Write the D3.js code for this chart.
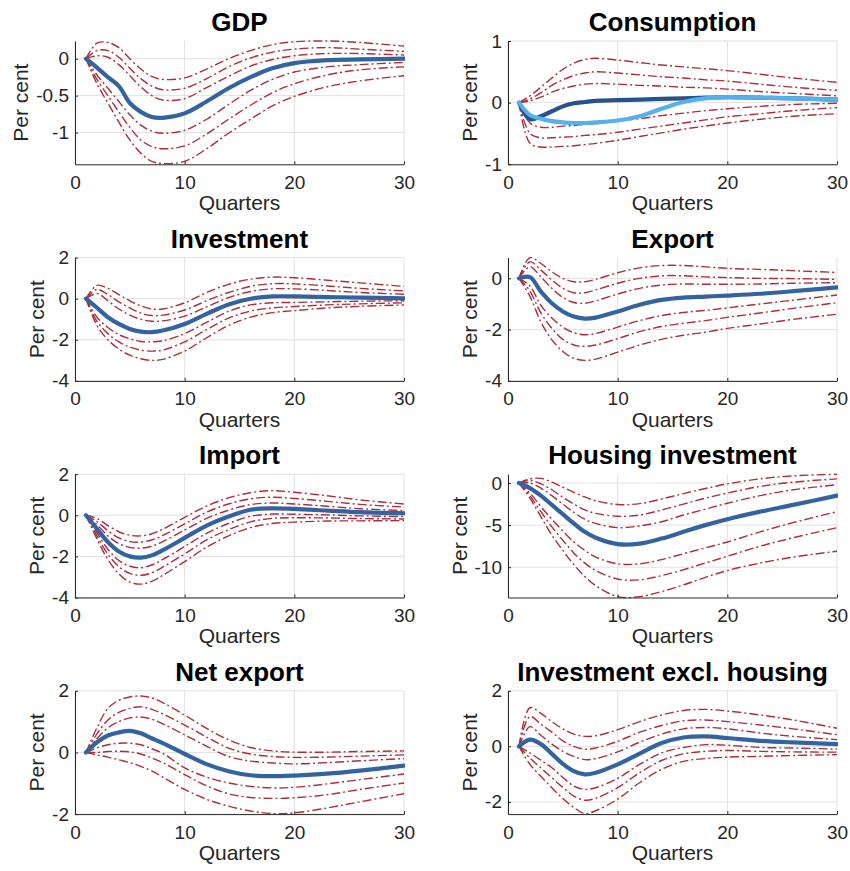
<!DOCTYPE html>
<html>
<head>
<meta charset="utf-8">
<script src="https://cdn.jsdelivr.net/npm/d3@7"></script>
<style>
  body { margin: 0; background: #ffffff; }
  text { font-family: "Liberation Sans", Arial, Helvetica, sans-serif; }
</style>
</head>
<body>
<svg id="chart" width="850" height="871"></svg>
<script>
// Horizon (quarters) at which each response is recorded
const quarters = [1, 2, 3, 4, 5, 6, 7, 8, 10, 12, 14, 16, 18, 20, 23, 26, 30];
const xTickValues = [0, 10, 20, 30];

// Panel titles
const titles = ["GDP", "Consumption", "Investment", "Export", "Import",
                "Housing investment", "Net export", "Investment excl. housing"];

// Axis limits and tick values per panel
const gdpLimits = [-1.43, 0.24], gdpTicks = [-1, -0.5, 0];
const consLimits = [-1, 1], consTicks = [-1, 0, 1];
const invLimits = [-4, 2], invTicks = [-4, -2, 0, 2];
const expLimits = [-4, 0.81], expTicks = [-4, -2, 0];
const impLimits = [-4, 2], impTicks = [-4, -2, 0, 2];
const housLimits = [-13.6, 1.05], housTicks = [-10, -5, 0];
const netLimits = [-2, 2], netTicks = [-2, 0, 2];
const invxLimits = [-2.44, 2], invxTicks = [-2, 0, 2];

// Median responses (per cent)
const gdpMedian  = [0, -0.12, -0.25, -0.37, -0.6, -0.72, -0.79, -0.8, -0.74, -0.58, -0.4, -0.25, -0.13, -0.06, -0.02, -0.01, 0];
const consMedian = [0, -0.27, -0.22, -0.14, -0.06, -0.01, 0.01, 0.03, 0.04, 0.05, 0.06, 0.07, 0.08, 0.09, 0.08, 0.07, 0.05];
const consAlt    = [0, -0.2, -0.26, -0.3, -0.32, -0.33, -0.33, -0.32, -0.29, -0.22, -0.1, 0.01, 0.07, 0.09, 0.08, 0.07, 0.05];
const invMedian  = [0, -0.44, -0.9, -1.23, -1.47, -1.6, -1.63, -1.55, -1.23, -0.74, -0.28, 0.0, 0.11, 0.11, 0.08, 0.05, 0.02];
const expMedian  = [0, 0.05, -0.52, -0.97, -1.29, -1.49, -1.57, -1.53, -1.29, -1.03, -0.84, -0.75, -0.71, -0.67, -0.6, -0.5, -0.35];
const impMedian  = [0, -0.66, -1.3, -1.76, -2.0, -2.06, -1.95, -1.7, -1.1, -0.5, -0.06, 0.27, 0.34, 0.31, 0.23, 0.15, 0.1];
const housMedian = [0, -0.6, -1.5, -2.6, -3.7, -4.8, -5.8, -6.5, -7.25, -7.2, -6.6, -5.8, -5.0, -4.3, -3.4, -2.6, -1.5];
const netMedian  = [0, 0.33, 0.55, 0.65, 0.7, 0.62, 0.46, 0.3, -0.05, -0.38, -0.61, -0.74, -0.77, -0.75, -0.69, -0.59, -0.43];
const invxMedian = [0, 0.24, 0.08, -0.27, -0.63, -0.89, -1.01, -0.95, -0.65, -0.26, 0.12, 0.32, 0.36, 0.3, 0.2, 0.14, 0.08];

// Percentile bands: three upper, three lower
const gdpBands = [
  [0, 0.21, 0.22, 0.15, 0.0, -0.14, -0.24, -0.28, -0.26, -0.14, 0.0, 0.11, 0.19, 0.23, 0.24, 0.22, 0.17],
  [0, 0.11, 0.11, 0.02, -0.13, -0.27, -0.37, -0.42, -0.4, -0.27, -0.11, 0.01, 0.09, 0.13, 0.15, 0.13, 0.1],
  [0, 0.04, 0.02, -0.08, -0.23, -0.38, -0.5, -0.56, -0.54, -0.39, -0.24, -0.1, -0.01, 0.04, 0.07, 0.07, 0.05],
  [0, -0.22, -0.4, -0.58, -0.76, -0.9, -0.98, -1.01, -0.97, -0.82, -0.62, -0.43, -0.28, -0.18, -0.11, -0.08, -0.05],
  [0, -0.28, -0.5, -0.72, -0.93, -1.1, -1.19, -1.22, -1.18, -1.02, -0.82, -0.63, -0.46, -0.34, -0.22, -0.15, -0.11],
  [0, -0.34, -0.6, -0.86, -1.1, -1.28, -1.39, -1.42, -1.39, -1.22, -1.01, -0.82, -0.64, -0.51, -0.38, -0.3, -0.23]
];
const consBands = [
  [0, 0.11, 0.25, 0.4, 0.54, 0.64, 0.7, 0.72, 0.69, 0.65, 0.61, 0.58, 0.55, 0.52, 0.46, 0.4, 0.33],
  [0, 0.06, 0.16, 0.28, 0.37, 0.44, 0.48, 0.5, 0.48, 0.45, 0.42, 0.4, 0.37, 0.35, 0.3, 0.25, 0.2],
  [0, 0.03, 0.09, 0.17, 0.23, 0.27, 0.3, 0.31, 0.3, 0.28, 0.27, 0.25, 0.24, 0.22, 0.18, 0.15, 0.11],
  [0, -0.33, -0.4, -0.4, -0.38, -0.37, -0.35, -0.34, -0.3, -0.26, -0.21, -0.17, -0.13, -0.1, -0.06, -0.03, -0.01],
  [0, -0.5, -0.57, -0.57, -0.56, -0.55, -0.53, -0.52, -0.48, -0.43, -0.38, -0.33, -0.28, -0.23, -0.18, -0.13, -0.08],
  [0, -0.66, -0.72, -0.72, -0.71, -0.7, -0.68, -0.66, -0.61, -0.55, -0.49, -0.43, -0.38, -0.33, -0.27, -0.22, -0.18]
];
const invBands = [
  [0, 0.65, 0.5, 0.2, -0.1, -0.35, -0.5, -0.5, -0.2, 0.3, 0.7, 0.95, 1.05, 1.02, 0.9, 0.77, 0.6],
  [0, 0.45, 0.2, -0.15, -0.45, -0.7, -0.82, -0.8, -0.55, -0.1, 0.3, 0.6, 0.73, 0.72, 0.62, 0.5, 0.38],
  [0, 0.25, -0.1, -0.5, -0.8, -1.0, -1.1, -1.08, -0.85, -0.4, 0.05, 0.35, 0.48, 0.48, 0.4, 0.3, 0.22],
  [0, -0.9, -1.4, -1.75, -1.95, -2.08, -2.1, -2.05, -1.7, -1.15, -0.62, -0.3, -0.2, -0.18, -0.15, -0.12, -0.1],
  [0, -1.1, -1.7, -2.1, -2.35, -2.5, -2.55, -2.5, -2.1, -1.5, -0.95, -0.6, -0.45, -0.38, -0.3, -0.25, -0.2],
  [0, -1.3, -2.0, -2.45, -2.75, -2.92, -3.0, -2.95, -2.55, -1.9, -1.3, -0.9, -0.68, -0.58, -0.45, -0.37, -0.3]
];
const expBands = [
  [0, 0.81, 0.58, 0.26, 0.0, -0.13, -0.13, -0.04, 0.22, 0.41, 0.5, 0.5, 0.45, 0.39, 0.35, 0.3, 0.23],
  [0, 0.65, 0.32, -0.06, -0.39, -0.56, -0.56, -0.45, -0.19, 0.0, 0.1, 0.1, 0.06, 0.03, 0.0, -0.01, -0.04],
  [0, 0.45, 0.06, -0.39, -0.74, -0.94, -0.97, -0.88, -0.61, -0.39, -0.26, -0.22, -0.23, -0.23, -0.22, -0.19, -0.17],
  [0, -0.3, -1.05, -1.55, -1.9, -2.12, -2.2, -2.15, -1.9, -1.65, -1.45, -1.33, -1.25, -1.15, -1.0, -0.85, -0.65],
  [0, -0.5, -1.35, -1.95, -2.38, -2.6, -2.65, -2.6, -2.35, -2.08, -1.88, -1.75, -1.65, -1.52, -1.35, -1.17, -0.95],
  [0, -0.7, -1.7, -2.4, -2.85, -3.12, -3.2, -3.15, -2.88, -2.6, -2.38, -2.22, -2.1, -1.95, -1.78, -1.6, -1.4]
];
const impBands = [
  [0, -0.15, -0.5, -0.8, -0.97, -1.0, -0.9, -0.68, -0.1, 0.45, 0.85, 1.1, 1.2, 1.12, 0.95, 0.75, 0.55],
  [0, -0.3, -0.75, -1.1, -1.28, -1.3, -1.2, -0.98, -0.42, 0.15, 0.55, 0.8, 0.88, 0.82, 0.68, 0.53, 0.4],
  [0, -0.45, -1.0, -1.38, -1.56, -1.6, -1.5, -1.28, -0.72, -0.15, 0.25, 0.52, 0.6, 0.55, 0.44, 0.32, 0.23],
  [0, -0.85, -1.65, -2.2, -2.48, -2.55, -2.42, -2.15, -1.52, -0.88, -0.4, -0.05, 0.06, 0.05, 0.02, -0.03, -0.06],
  [0, -1.0, -1.9, -2.5, -2.83, -2.92, -2.8, -2.52, -1.88, -1.2, -0.7, -0.32, -0.15, -0.12, -0.13, -0.16, -0.18],
  [0, -1.15, -2.15, -2.85, -3.25, -3.35, -3.22, -2.92, -2.25, -1.55, -1.0, -0.6, -0.4, -0.33, -0.28, -0.27, -0.26]
];
const housBands = [
  [0, 0.5, 0.55, 0.1, -0.5, -1.1, -1.65, -2.1, -2.55, -2.45, -1.9, -1.25, -0.65, -0.1, 0.5, 0.85, 1.05],
  [0, 0.3, -0.1, -0.8, -1.7, -2.5, -3.2, -3.6, -3.95, -3.8, -3.2, -2.5, -1.8, -1.2, -0.4, 0.1, 0.5],
  [0, 0.0, -0.6, -1.5, -2.5, -3.5, -4.3, -4.8, -5.3, -5.1, -4.6, -3.8, -3.1, -2.4, -1.5, -0.8, -0.2],
  [0, -1.2, -2.8, -4.3, -5.7, -7.0, -8.0, -8.8, -9.6, -9.6, -9.1, -8.4, -7.7, -7.0, -5.8, -4.7, -3.4],
  [0, -1.5, -3.4, -5.2, -6.8, -8.3, -9.5, -10.4, -11.4, -11.5, -11.0, -10.3, -9.5, -8.7, -7.5, -6.5, -5.3],
  [0, -1.8, -4.0, -6.2, -8.0, -9.7, -11.1, -12.2, -13.5, -13.5, -12.9, -12.1, -11.2, -10.4, -9.5, -8.8, -8.1]
];
const netBands = [
  [0, 0.8, 1.43, 1.69, 1.8, 1.83, 1.77, 1.62, 1.21, 0.78, 0.41, 0.16, 0.05, 0.01, 0.01, 0.03, 0.05],
  [0, 0.6, 1.05, 1.3, 1.43, 1.48, 1.4, 1.25, 0.89, 0.5, 0.14, -0.05, -0.13, -0.16, -0.15, -0.12, -0.08],
  [0, 0.45, 0.8, 1.0, 1.12, 1.15, 1.08, 0.93, 0.57, 0.2, -0.13, -0.28, -0.34, -0.37, -0.33, -0.27, -0.2],
  [0, 0.15, 0.25, 0.3, 0.3, 0.25, 0.12, -0.03, -0.5, -0.8, -0.99, -1.1, -1.15, -1.13, -1.02, -0.88, -0.7],
  [0, 0.0, 0.03, 0.04, 0.02, -0.05, -0.18, -0.33, -0.72, -1.08, -1.34, -1.46, -1.49, -1.47, -1.37, -1.2, -0.99],
  [0, -0.08, -0.15, -0.24, -0.33, -0.45, -0.6, -0.8, -1.2, -1.52, -1.74, -1.9, -1.98, -1.96, -1.8, -1.6, -1.34]
];
const invxBands = [
  [0, 1.39, 1.19, 0.89, 0.63, 0.44, 0.36, 0.38, 0.6, 0.89, 1.13, 1.29, 1.33, 1.27, 1.13, 0.95, 0.65],
  [0, 1.07, 0.8, 0.51, 0.2, 0.0, -0.1, -0.06, 0.18, 0.51, 0.75, 0.92, 0.95, 0.89, 0.77, 0.63, 0.42],
  [0, 0.71, 0.4, 0.08, -0.18, -0.36, -0.48, -0.44, -0.2, 0.15, 0.44, 0.63, 0.68, 0.63, 0.48, 0.36, 0.24],
  [0, -0.24, -0.5, -0.77, -1.12, -1.43, -1.55, -1.49, -1.15, -0.65, -0.24, -0.04, 0.06, 0.04, -0.04, -0.06, -0.1],
  [0, -0.42, -0.78, -1.13, -1.48, -1.79, -1.94, -1.87, -1.49, -0.95, -0.51, -0.27, -0.18, -0.15, -0.18, -0.2, -0.21],
  [0, -0.65, -1.08, -1.49, -1.88, -2.2, -2.42, -2.32, -1.9, -1.31, -0.83, -0.54, -0.44, -0.39, -0.36, -0.33, -0.3]
];

const panels = [
  { limits: gdpLimits,  ticks: gdpTicks,  median: gdpMedian,  bands: gdpBands },
  { limits: consLimits, ticks: consTicks, median: consMedian, bands: consBands, alt: consAlt },
  { limits: invLimits,  ticks: invTicks,  median: invMedian,  bands: invBands },
  { limits: expLimits,  ticks: expTicks,  median: expMedian,  bands: expBands },
  { limits: impLimits,  ticks: impTicks,  median: impMedian,  bands: impBands },
  { limits: housLimits, ticks: housTicks, median: housMedian, bands: housBands },
  { limits: netLimits,  ticks: netTicks,  median: netMedian,  bands: netBands },
  { limits: invxLimits, ticks: invxTicks, median: invxMedian, bands: invxBands }
].map((p, i) => ({ ...p, title: titles[i] }));

// Layout of the 4x2 grid of axes
const colLeft = [75, 508];
const rowTop = [41, 257.6, 474.2, 690.8];
const W = 329, H = 123.3;

const bandColor = "#a8303e";
const medianColor = "#2b68a8";
const altColor = "#55b1ec";
const axisColor = "#262626";
const gridColor = "#e1e1e1";
const dashDot = "9,3,2,3";

const svg = d3.select("#chart");

panels.forEach((p, i) => {
  const col = i % 2, row = Math.floor(i / 2);
  const g = svg.append("g").attr("transform", `translate(${colLeft[col]},${rowTop[row]})`);

  const x = d3.scaleLinear().domain([0, 30]).range([0, W]);
  const y = d3.scaleLinear().domain(p.limits).range([H, 0]);

  // grid
  g.append("g").selectAll("line").data(xTickValues).join("line")
    .attr("x1", d => x(d)).attr("x2", d => x(d)).attr("y1", 0).attr("y2", H)
    .attr("stroke", gridColor).attr("stroke-width", 1);
  g.append("g").selectAll("line").data(p.ticks).join("line")
    .attr("x1", 0).attr("x2", W).attr("y1", d => y(d)).attr("y2", d => y(d))
    .attr("stroke", gridColor).attr("stroke-width", 1);

  const clipId = "clip" + i;
  g.append("clipPath").attr("id", clipId).append("rect")
    .attr("x", 0).attr("y", -1).attr("width", W + 1).attr("height", H + 2);

  const line = d3.line()
    .x((d, k) => x(quarters[k]))
    .y(d => y(d))
    .curve(d3.curveCatmullRom.alpha(0.5));

  const plot = g.append("g").attr("clip-path", `url(#${clipId})`);

  // percentile bands
  plot.selectAll("path.band").data(p.bands).join("path")
    .attr("class", "band")
    .attr("d", line)
    .attr("fill", "none")
    .attr("stroke", bandColor)
    .attr("stroke-width", 1.4)
    .attr("stroke-dasharray", dashDot);

  // median
  plot.append("path").datum(p.median)
    .attr("d", line)
    .attr("fill", "none")
    .attr("stroke", p.alt ? "#1d5594" : medianColor)
    .attr("stroke-width", 4.2)
    .attr("stroke-linecap", "round");
  plot.append("path").datum(p.median)
    .attr("d", line)
    .attr("fill", "none")
    .attr("stroke", bandColor)
    .attr("stroke-opacity", 0.4)
    .attr("stroke-width", 1.2)
    .attr("stroke-dasharray", dashDot);

  if (p.alt) {
    plot.append("path").datum(p.alt)
      .attr("d", line)
      .attr("fill", "none")
      .attr("stroke", altColor)
      .attr("stroke-width", 4.2)
      .attr("stroke-linecap", "round");
  }

  // axes
  const xAxis = d3.axisBottom(x).tickValues(xTickValues).tickSizeInner(-3).tickSizeOuter(0)
    .tickPadding(11).tickFormat(d => String(d));
  const yAxis = d3.axisLeft(y).tickValues(p.ticks).tickSizeInner(-3).tickSizeOuter(0)
    .tickPadding(6).tickFormat(d => String(d));

  const gx = g.append("g").attr("transform", `translate(0,${H})`).call(xAxis);
  const gy = g.append("g").call(yAxis);
  [gx, gy].forEach(a => {
    a.select(".domain").attr("stroke", axisColor).attr("stroke-width", 1);
    a.selectAll(".tick line").attr("stroke", axisColor);
    a.selectAll(".tick text").attr("fill", axisColor).style("font-size", "19px")
      .style("font-family", '"Liberation Sans", Arial, sans-serif');
  });

  // widest y tick label decides where the y label goes
  let maxW = 0;
  gy.selectAll(".tick text").each(function () { maxW = Math.max(maxW, this.getComputedTextLength()); });

  g.append("text")
    .attr("transform", `translate(${-(6 + maxW + 8)},${H / 2}) rotate(-90)`)
    .attr("text-anchor", "middle")
    .attr("fill", axisColor)
    .style("font-size", "21px")
    .text("Per cent");

  g.append("text")
    .attr("x", W / 2).attr("y", H + 46)
    .attr("text-anchor", "middle")
    .attr("fill", axisColor)
    .style("font-size", "21px")
    .text("Quarters");

  g.append("text")
    .attr("x", W / 2).attr("y", -10)
    .attr("text-anchor", "middle")
    .attr("fill", "#000")
    .style("font-size", "26px")
    .style("font-weight", "bold")
    .text(p.title);
});
</script>
</body>
</html>
